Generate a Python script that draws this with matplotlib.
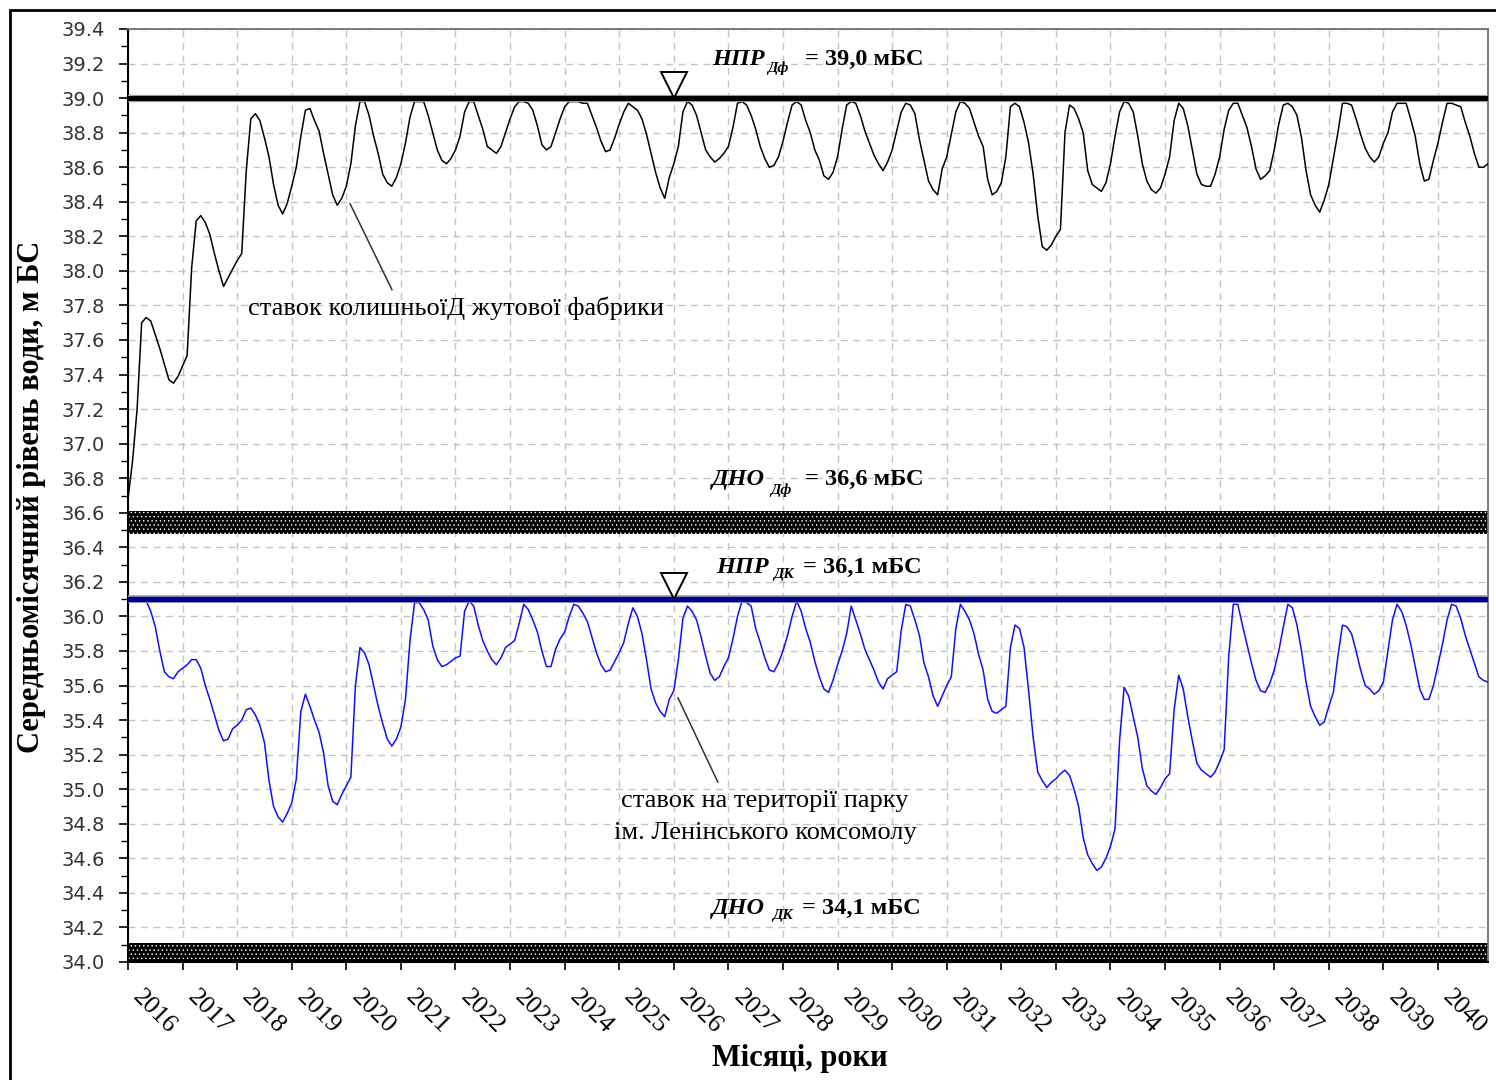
import numpy as np
import matplotlib
matplotlib.use("Agg")
import matplotlib.pyplot as plt
from matplotlib.patches import Rectangle
from matplotlib.ticker import MultipleLocator, FixedLocator
from matplotlib.transforms import ScaledTranslation

# ---------------------------------------------------------------------------
# Data: monthly mean water level, m BS, January 2016 - December 2040
# ---------------------------------------------------------------------------
years = list(range(2016, 2041))

# pond of the former jute factory
level_df = [
    36.68, 36.90, 37.20, 37.70, 37.73, 37.71, 37.63, 37.55, 37.46, 37.37, 37.35, 37.39,  # 2016
    37.45, 37.51, 38.02, 38.29, 38.32, 38.28, 38.21, 38.10, 38.00, 37.91, 37.96, 38.01,  # 2017
    38.06, 38.10, 38.58, 38.88, 38.91, 38.87, 38.77, 38.66, 38.50, 38.38, 38.33, 38.39,  # 2018
    38.49, 38.60, 38.78, 38.93, 38.94, 38.87, 38.81, 38.68, 38.56, 38.44, 38.38, 38.42,  # 2019
    38.49, 38.62, 38.84, 38.98, 38.98, 38.90, 38.78, 38.68, 38.56, 38.51, 38.49, 38.54,  # 2020
    38.62, 38.74, 38.89, 38.98, 38.98, 38.98, 38.90, 38.80, 38.70, 38.64, 38.62, 38.65,  # 2021
    38.70, 38.78, 38.92, 38.98, 38.98, 38.90, 38.82, 38.72, 38.70, 38.68, 38.72, 38.80,  # 2022
    38.88, 38.95, 38.98, 38.98, 38.97, 38.93, 38.84, 38.73, 38.70, 38.72, 38.80, 38.88,  # 2023
    38.95, 38.98, 38.98, 38.98, 38.97, 38.97, 38.90, 38.83, 38.75, 38.69, 38.70, 38.77,  # 2024
    38.85, 38.92, 38.97, 38.95, 38.93, 38.88, 38.79, 38.68, 38.57, 38.48, 38.42, 38.54,  # 2025
    38.62, 38.72, 38.92, 38.98, 38.96, 38.90, 38.80, 38.70, 38.66, 38.63, 38.65, 38.68,  # 2026
    38.72, 38.83, 38.97, 38.98, 38.96, 38.90, 38.82, 38.72, 38.65, 38.60, 38.61, 38.66,  # 2027
    38.75, 38.86, 38.96, 38.98, 38.96, 38.87, 38.80, 38.70, 38.64, 38.55, 38.53, 38.57,  # 2028
    38.66, 38.82, 38.96, 38.98, 38.97, 38.90, 38.81, 38.74, 38.67, 38.62, 38.58, 38.63,  # 2029
    38.70, 38.81, 38.92, 38.97, 38.96, 38.91, 38.76, 38.64, 38.52, 38.47, 38.44, 38.59,  # 2030
    38.66, 38.79, 38.92, 38.98, 38.97, 38.94, 38.86, 38.78, 38.72, 38.53, 38.44, 38.46,  # 2031
    38.51, 38.66, 38.95, 38.97, 38.95, 38.86, 38.74, 38.56, 38.32, 38.14, 38.12, 38.15,  # 2032
    38.20, 38.24, 38.80, 38.96, 38.94, 38.88, 38.80, 38.58, 38.50, 38.48, 38.46, 38.51,  # 2033
    38.62, 38.78, 38.92, 38.98, 38.97, 38.92, 38.78, 38.62, 38.52, 38.47, 38.45, 38.48,  # 2034
    38.56, 38.66, 38.87, 38.97, 38.94, 38.84, 38.70, 38.56, 38.50, 38.49, 38.49, 38.56,  # 2035
    38.66, 38.82, 38.93, 38.97, 38.97, 38.90, 38.83, 38.72, 38.59, 38.53, 38.55, 38.58,  # 2036
    38.70, 38.85, 38.96, 38.97, 38.95, 38.90, 38.77, 38.58, 38.44, 38.38, 38.34, 38.41,  # 2037
    38.50, 38.65, 38.80, 38.97, 38.97, 38.96, 38.88, 38.79, 38.71, 38.66, 38.63, 38.66,  # 2038
    38.74, 38.80, 38.92, 38.97, 38.97, 38.97, 38.88, 38.78, 38.62, 38.52, 38.53, 38.64,  # 2039
    38.74, 38.86, 38.97, 38.97, 38.96, 38.95, 38.86, 38.78, 38.68, 38.60, 38.60, 38.62,  # 2040
]

# pond in the Lenin Komsomol park
level_dk = [
    36.09, 36.09, 36.09, 36.09, 36.09, 36.03, 35.94, 35.80, 35.68, 35.65, 35.64, 35.68,  # 2016
    35.70, 35.72, 35.75, 35.75, 35.70, 35.60, 35.52, 35.43, 35.34, 35.28, 35.29, 35.35,  # 2017
    35.37, 35.40, 35.46, 35.47, 35.43, 35.37, 35.27, 35.05, 34.90, 34.84, 34.81, 34.86,  # 2018
    34.92, 35.06, 35.45, 35.55, 35.48, 35.40, 35.33, 35.21, 35.02, 34.93, 34.91, 34.97,  # 2019
    35.02, 35.07, 35.60, 35.82, 35.79, 35.72, 35.60, 35.48, 35.38, 35.29, 35.25, 35.29,  # 2020
    35.36, 35.52, 35.86, 36.08, 36.08, 36.04, 35.98, 35.83, 35.75, 35.71, 35.72, 35.74,  # 2021
    35.76, 35.77, 36.03, 36.09, 36.06, 35.95, 35.86, 35.80, 35.75, 35.72, 35.76, 35.82,  # 2022
    35.84, 35.86, 35.96, 36.07, 36.04, 35.98, 35.91, 35.80, 35.71, 35.71, 35.81, 35.87,  # 2023
    35.91, 36.00, 36.07, 36.06, 36.02, 35.97, 35.88, 35.79, 35.72, 35.68, 35.69, 35.74,  # 2024
    35.79, 35.85, 35.96, 36.05, 36.00, 35.90, 35.75, 35.58, 35.50, 35.45, 35.42, 35.52,  # 2025
    35.57, 35.75, 35.99, 36.06, 36.03, 35.98, 35.88, 35.77, 35.67, 35.63, 35.65, 35.71,  # 2026
    35.76, 35.87, 36.00, 36.09, 36.08, 36.06, 35.93, 35.85, 35.76, 35.69, 35.68, 35.73,  # 2027
    35.80, 35.89, 36.00, 36.09, 36.03, 35.93, 35.85, 35.74, 35.65, 35.58, 35.56, 35.63,  # 2028
    35.72, 35.80, 35.90, 36.06, 35.98, 35.90, 35.81, 35.75, 35.69, 35.62, 35.58, 35.64,  # 2029
    35.66, 35.68, 35.92, 36.07, 36.06, 35.98, 35.89, 35.73, 35.65, 35.54, 35.48, 35.54,  # 2030
    35.60, 35.65, 35.93, 36.07, 36.03, 35.98, 35.90, 35.78, 35.69, 35.52, 35.45, 35.44,  # 2031
    35.46, 35.48, 35.82, 35.95, 35.93, 35.82, 35.57, 35.30, 35.10, 35.05, 35.01, 35.04,  # 2032
    35.06, 35.09, 35.11, 35.08, 35.00, 34.90, 34.72, 34.62, 34.57, 34.53, 34.55, 34.60,  # 2033
    34.67, 34.77, 35.28, 35.59, 35.54, 35.42, 35.30, 35.12, 35.02, 34.99, 34.97, 35.01,  # 2034
    35.06, 35.09, 35.46, 35.66, 35.58, 35.42, 35.28, 35.15, 35.11, 35.09, 35.07, 35.10,  # 2035
    35.16, 35.23, 35.77, 36.07, 36.07, 35.95, 35.84, 35.73, 35.63, 35.57, 35.56, 35.61,  # 2036
    35.69, 35.80, 35.94, 36.07, 36.05, 35.95, 35.80, 35.62, 35.48, 35.42, 35.37, 35.39,  # 2037
    35.48, 35.56, 35.77, 35.95, 35.94, 35.90, 35.80, 35.69, 35.60, 35.58, 35.55, 35.57,  # 2038
    35.62, 35.80, 35.98, 36.07, 36.03, 35.95, 35.84, 35.71, 35.58, 35.52, 35.52, 35.60,  # 2039
    35.72, 35.84, 35.98, 36.07, 36.06, 35.99, 35.89, 35.81, 35.73, 35.65, 35.63, 35.62,  # 2040
]

# normal retaining level (НПР) and dead-storage level (ДНО) of both ponds
npr_df, dno_df = 39.0, 36.6
npr_dk, dno_dk = 36.1, 34.1

y_major = np.round(np.arange(34.0, 39.41, 0.2), 1)
y_labels = [f"{v:.1f}" for v in y_major]
year_labels = [str(y) for y in years]

SERIF = "Liberation Serif"

# ---------------------------------------------------------------------------
fig = plt.figure(figsize=(14.96, 10.8), dpi=100)
W, H = 1496, 1080
ax = fig.add_axes([128 / W, 1 - 962 / H, 1360 / W, 933 / H])

months = np.arange(len(level_df))
ax.set_xlim(0, len(months) - 1)
ax.set_ylim(34.0, 39.4)

# grid
ax.set_axisbelow(True)
ax.grid(True, which="major", color="#c4c4c4", linestyle=(0, (5, 4)), linewidth=1.0)

# hatched dead-storage bands
plt.rcParams["hatch.linewidth"] = 0.5
for lvl in (dno_df, dno_dk):
    ax.fill_between([0, len(months) - 1], lvl - 0.12, lvl + 0.01,
                    facecolor="black", edgecolor="white", hatch="....",
                    linewidth=0, zorder=2)

# water level series
ax.plot(months, level_df, color="black", lw=1.1, zorder=3)
ax.plot(months, level_dk, color="#1010ff", lw=1.1, zorder=3)

# normal retaining levels
ax.axhline(npr_df, color="#9a9a9a", lw=5.2, zorder=4)
ax.axhline(npr_df, color="black", lw=3.6, zorder=4)
ax.axhline(npr_dk, color="#9999d0", lw=5.6, zorder=4)
ax.axhline(npr_dk, color="#000080", lw=3.8, zorder=4)

# level markers (inverted triangles resting on the lines)
ms = 19
lift = ScaledTranslation(0, ms / 2 / 72, fig.dpi_scale_trans)
for lvl in (npr_df, npr_dk):
    ax.plot([120], [lvl], marker="v", ms=ms, mfc="white", mec="black",
            mew=1.4, transform=ax.transData + lift, zorder=5, clip_on=False)

# level captions: main part, subscript, value
caption_kw = dict(family=SERIF, color="black", va="baseline", zorder=6)
captions = [
    ("НПР", "Дф", "= 39,0 мБС", 128.4, 140.5, 148.9, 39.19, 39.15),
    ("ДНО", "Дф", "= 36,6 мБС", 128.3, 141.2, 148.9, 36.76, 36.71),
    ("НПР", "ДК", "= 36,1 мБС", 129.4, 141.8, 148.4, 36.25, 36.22),
    ("ДНО", "ДК", "= 34,1 мБС", 128.3, 141.6, 148.2, 34.28, 34.25),
]
for main, sub, val, xm, xs, xv, yb, ysb in captions:
    ax.text(xm, yb, main, fontsize=17.5, weight="bold", style="italic", **caption_kw)
    ax.text(xs, ysb, sub, fontsize=11, weight="bold", style="italic", **caption_kw)
    ax.text(xv, yb, val, fontsize=17.5, weight="bold", **caption_kw)

# pond captions with leader lines
ax.text(72.1, 37.785, "ставок колишньоїД жутової фабрики", family=SERIF,
        fontsize=19, ha="center", va="center", zorder=6)
ax.annotate("", xy=(48.8, 38.39), xytext=(58.05, 37.89),
            arrowprops=dict(arrowstyle="-", color="#333333", lw=1.1,
                            shrinkA=0, shrinkB=0), zorder=6)
ax.text(140.1, 34.84, "ставок на території парку\nім. Ленінського комсомолу",
        family=SERIF, fontsize=19, ha="center", va="center",
        linespacing=1.55, zorder=6)
ax.annotate("", xy=(120.9, 35.53), xytext=(129.7, 35.04),
            arrowprops=dict(arrowstyle="-", color="#333333", lw=1.1,
                            shrinkA=0, shrinkB=0), zorder=6)

# axes and ticks
ax.yaxis.set_major_locator(FixedLocator(y_major))
ax.set_yticklabels(y_labels)
ax.yaxis.set_minor_locator(MultipleLocator(0.1))
ax.set_xticks(np.arange(0, len(months), 12))
ax.set_xticklabels(year_labels, family=SERIF, fontsize=18.5, rotation=-45,
                   ha="left", va="center", rotation_mode="anchor")
ax.tick_params(axis="y", which="major", length=6.5, width=1.2, direction="out",
               labelsize=14, labelcolor="#333333", pad=10)
ax.tick_params(axis="y", which="minor", length=5, width=1.0, direction="out")
ax.tick_params(axis="x", which="major", length=6, width=1.2, direction="out", pad=17)
for lab in ax.get_yticklabels():
    lab.set_family("DejaVu Sans")
shift = ScaledTranslation(6 / 72, 0, fig.dpi_scale_trans)
for lab in ax.get_xticklabels():
    lab.set_transform(lab.get_transform() + shift)

for side in ("top", "right"):
    ax.spines[side].set_color("#707070")
    ax.spines[side].set_linewidth(1.3)
for side in ("left", "bottom"):
    ax.spines[side].set_color("black")
    ax.spines[side].set_linewidth(1.5)

ax.set_ylabel("Середньомісячний рівень води, м БС", family=SERIF,
              fontsize=22, weight="bold", va="center")
ax.yaxis.set_label_coords(-0.0706, 0.498)
ax.set_xlabel("Місяці, роки", family=SERIF, fontsize=22, weight="bold",
              va="center")
ax.xaxis.set_label_coords(0.494, -0.103)

# outer frame
fig.add_artist(Rectangle((10 / W, -0.05), 1.2, 1.05 - 10 / H,
                         transform=fig.transFigure, fill=False,
                         edgecolor="black", lw=2.0))

fig.savefig("out.png", dpi=100)
